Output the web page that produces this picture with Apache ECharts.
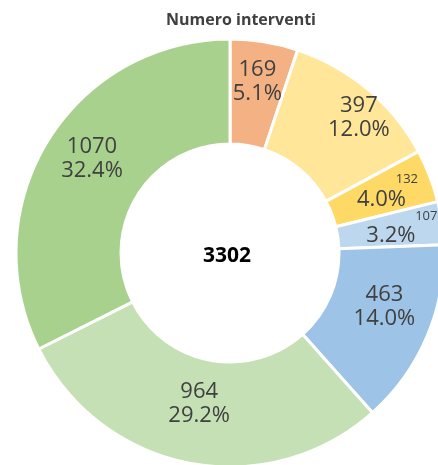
<!DOCTYPE html>
<html lang="it">
<head>
    <meta charset="UTF-8">
    <title>Numero interventi</title>
</head>
<body style="margin:0; background:#fff;">
<div id="main" style="width:438px; height:465px;"></div>

<script src="https://cdn.jsdelivr.net/npm/echarts@6.0.0/dist/echarts.min.js"></script>
<script>
    // dati
    var categorie = ['A', 'B', 'C', 'D', 'E', 'F', 'G'];
    var valori = [169, 397, 132, 107, 463, 964, 1070];
    var colori = ['#F4B183', '#FFE699', '#FFD966', '#BDD7EE', '#9DC3E6', '#C5E0B4', '#A9D18E'];
    var titolo = 'Numero interventi';

    var totale = valori.reduce(function (a, b) { return a + b; }, 0);

    // spostamento delle etichette (come in Excel)
    var spostamenti = [[1, -9], [23, -9], [-2, -2], [-2, -2], [3, -11], [0, -11], [2, -8]];
    // etichette piccole (valore in apice) per le fette strette
    var piccole = { 2: 12, 3: 22 };

    var dati = valori.map(function (v, i) {
        var pct = (v / totale * 100).toFixed(1) + '%';
        var item = { name: categorie[i], value: v, itemStyle: { color: colori[i] } };
        if (piccole[i] !== undefined) {
            var x = piccole[i];
            item.label = {
                formatter: '{s|' + v + '}\n{q|' + pct + '}',
                offset: [x / 2 + spostamenti[i][0], spostamenti[i][1]],
                rich: {
                    s: { fontSize: 13, lineHeight: 15, align: 'right', color: '#404040', fontFamily: 'Open Sans' },
                    q: { fontSize: 22, lineHeight: 24, color: '#404040', fontFamily: 'Open Sans', padding: [0, x, 0, 0] }
                }
            };
        } else {
            item.label = { formatter: v + '\n' + pct, offset: spostamenti[i] };
        }
        return item;
    });

    var myChart = echarts.init(document.getElementById('main'));
    var option = {
        animation: false,
        graphic: [{
            type: 'text',
            x: 241,
            y: 20,
            style: {
                text: titolo,
                align: 'center',
                verticalAlign: 'middle',
                fontFamily: 'Open Sans',
                fontWeight: 'bold',
                fontSize: 16,
                fill: '#404040'
            }
        }, {
            type: 'text',
            x: 227,
            y: 256,
            style: {
                text: String(totale),
                align: 'center',
                verticalAlign: 'middle',
                fontFamily: 'Open Sans',
                fontWeight: 'bold',
                fontSize: 21,
                fill: '#000'
            }
        }],
        series: [{
            type: 'pie',
            center: [230, 253],
            radius: [109, 214],
            startAngle: 90,
            clockwise: true,
            data: dati,
            itemStyle: { borderColor: '#fff', borderWidth: 3 },
            label: {
                show: true,
                position: 'inside',
                fontFamily: 'Open Sans',
                fontSize: 22,
                lineHeight: 24,
                color: '#404040'
            },
            labelLayout: { hideOverlap: false },
            labelLine: { show: false },
            emphasis: { disabled: true }
        }]
    };

    myChart.setOption(option);
</script>
</body>
</html>
